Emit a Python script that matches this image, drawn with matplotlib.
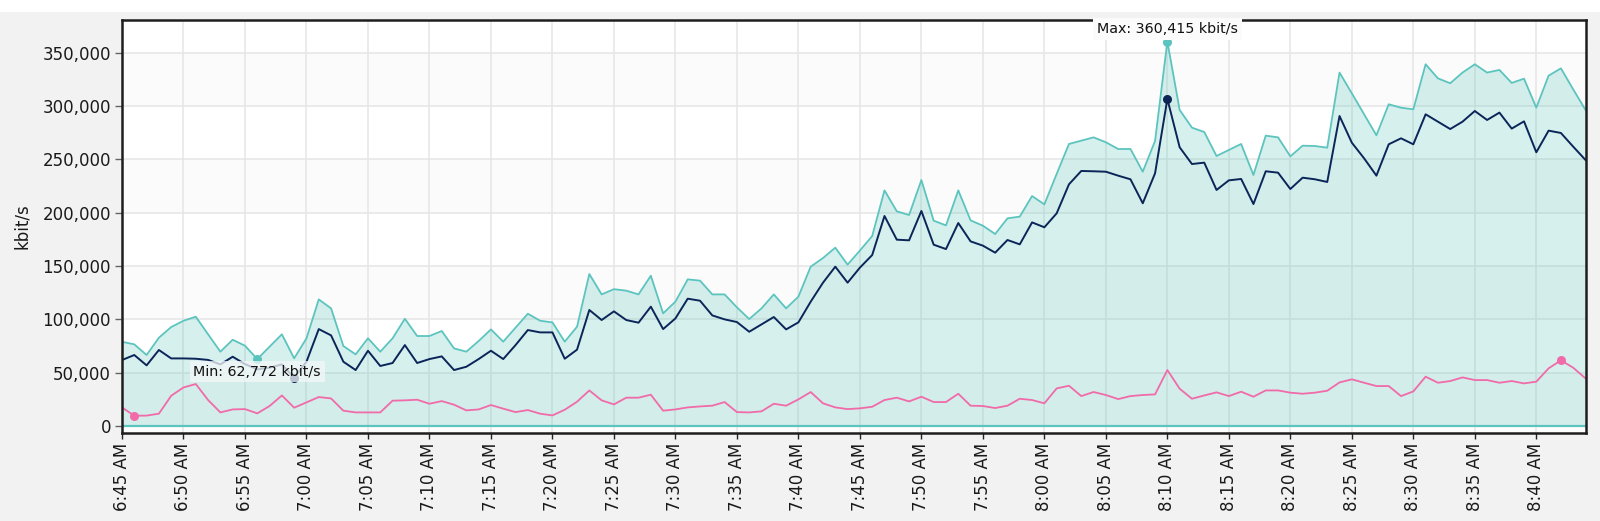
import numpy as np
import pandas as pd
import matplotlib
matplotlib.use("Agg")
import matplotlib.pyplot as plt
import matplotlib.dates as mdates
from matplotlib.patches import Rectangle

# one sample per minute, 6:45 AM .. 8:44 AM
times = pd.date_range("2024-11-04 06:45", periods=120, freq="min")

# total traffic (teal, filled)
total = [79000, 76600, 66600, 82800, 92800, 98700, 102500, 86000, 69700, 80900,
         75300, 62772, 74400, 86000, 63500, 82200, 118700, 110300, 75000, 67200,
         82300, 69700, 82200, 100600, 84400, 84400, 89100, 72800, 69700, 79700,
         90600, 79100, 92200, 105300, 98700, 97200, 79100, 93100, 142500, 123400,
         128300, 126900, 123400, 140900, 105600, 116600, 137500, 136300, 123400, 123400,
         111300, 100300, 110300, 123400, 110300, 121300, 149400, 157500, 167200, 151300,
         164500, 178100, 220900, 201300, 197800, 230600, 192500, 188100, 220900, 192800,
         187800, 180000, 194700, 196300, 215600, 207800, 236300, 264400, 267500, 270600,
         266000, 259700, 259700, 238400, 267200, 360415, 296300, 279700, 275600, 253100,
         258800, 264400, 235300, 272200, 270600, 252800, 262800, 262500, 260900, 331300,
         311900, 292200, 272500, 301600, 298400, 296900, 339100, 325900, 321300, 331300,
         339100, 331300, 333800, 321600, 325600, 298400, 328400, 335300, 315600, 296300]

# traffic in (navy)
traffic_in = [61900, 66600, 56900, 71300, 63400, 63400, 63100, 62000, 57800, 65000,
              58100, 53100, 54700, 57800, 45300, 60300, 90900, 85000, 60300, 52500,
              70600, 56300, 59100, 75900, 59100, 62800, 65300, 52500, 55600, 62800,
              70600, 62800, 75900, 90000, 87800, 87800, 63100, 71600, 108800, 99400,
              107500, 99400, 96900, 111900, 90900, 100900, 119400, 117500, 103700, 100000,
              97500, 88400, 95300, 102200, 90600, 97200, 116600, 134400, 149400, 134400,
              148500, 160300, 196900, 174700, 174100, 201600, 170000, 165900, 190300, 173100,
              169100, 162500, 174400, 170300, 190900, 186300, 199400, 226600, 239100, 238800,
              238400, 234700, 231300, 208800, 236900, 306600, 261300, 245600, 246900, 221300,
              230300, 231600, 208100, 238800, 237500, 222200, 232800, 231300, 228800, 290600,
              265600, 250900, 234700, 264100, 269700, 264100, 292200, 285300, 278400, 285300,
              295300, 286900, 293800, 278800, 285600, 256600, 276900, 274700, 261900, 249400]

# traffic out (pink)
traffic_out = [17500, 9700, 9800, 11600, 28400, 36200, 39400, 24400, 12800, 15600,
               15900, 11900, 18800, 28700, 17200, 22200, 27200, 25900, 14400, 12800,
               12800, 12800, 23800, 24100, 24700, 20900, 23400, 20000, 14700, 15600,
               19700, 16300, 13100, 15000, 11600, 10000, 15300, 22800, 33400, 24100,
               20300, 26600, 26600, 29400, 14400, 15600, 17500, 18400, 19100, 22500,
               13100, 12800, 13800, 20900, 19100, 25000, 31900, 21300, 17500, 15900,
               16600, 18100, 24400, 26600, 23100, 27500, 22500, 22500, 30300, 19100,
               18800, 16900, 19100, 25600, 24400, 21300, 35300, 37800, 28100, 31900,
               29100, 25300, 28100, 29100, 29700, 52500, 35000, 25600, 28700, 31600,
               28100, 32200, 27500, 33400, 33400, 31300, 30300, 31300, 33100, 40900,
               43800, 40600, 37500, 37500, 28100, 32500, 46300, 40600, 42200, 45600,
               43100, 43100, 40600, 42200, 40000, 41600, 54100, 61600, 54700, 44700]

y_ticks = [0, 50000, 100000, 150000, 200000, 250000, 300000, 350000]
unit = "kbit/s"

TEAL = "#5cc4be"
NAVY = "#0b2559"
PINK = "#f06ba8"

fig = plt.figure(figsize=(16, 5.21), dpi=100, facecolor="#f2f2f2")
fig.patches.append(Rectangle((0, 1 - 12 / 521), 1, 12 / 521, transform=fig.transFigure,
                             facecolor="white", edgecolor="none", zorder=0))
ax = fig.add_axes([122 / 1600, 88 / 521, 1463.5 / 1600, 413 / 521])
ax.set_facecolor("white")

# alternating background bands
for lo in [0, 100000, 200000, 300000]:
    ax.axhspan(lo, lo + 50000, color="#fbfbfb", lw=0, zorder=0)

ax.grid(True, color="#e6e6e6", lw=1.1)
ax.set_axisbelow(True)

ax.fill_between(times, total, 0, color=TEAL, alpha=0.25, lw=0, zorder=1.5)
ax.axhline(0, color=TEAL, lw=1.6, zorder=2)
ax.plot(times, total, color=TEAL, lw=1.3, zorder=2.2)
ax.plot(times, traffic_in, color=NAVY, lw=1.4, zorder=2.3)
ax.plot(times, traffic_out, color=PINK, lw=1.3, zorder=2.2)

# min / max markers
for s, c in [(total, TEAL), (traffic_in, NAVY), (traffic_out, PINK)]:
    s = np.array(s)
    for k in (s.argmin(), s.argmax()):
        ax.plot(times[k], s[k], "o", color=c, ms=6.5, mec="none", zorder=2.6)

tot = np.array(total)
kmin, kmax = tot.argmin(), tot.argmax()
ax.annotate(f"Min: {tot[kmin]:,} {unit}", (times[kmin], tot[kmin]), xytext=(0, -9),
            textcoords="offset points", ha="center", va="center", fontsize=10.3,
            color="#111111", zorder=4,
            bbox=dict(boxstyle="square,pad=0.25", fc="#f4f8f8", ec="none", alpha=0.75))
ax.annotate(f"Max: {tot[kmax]:,} {unit}", (times[kmax], tot[kmax]), xytext=(0, 9),
            textcoords="offset points", ha="center", va="center", fontsize=10.3,
            color="#111111", zorder=4, annotation_clip=False,
            bbox=dict(boxstyle="square,pad=0.3", fc="#fbfbfb", ec="none"))

ax.set_xlim(times[0], times[-1])
ax.set_ylim(-6500, 380600)
ax.set_yticks(y_ticks)
ax.yaxis.set_major_formatter(matplotlib.ticker.FuncFormatter(lambda v, p: f"{v:,.0f}"))
ax.xaxis.set_major_locator(mdates.MinuteLocator(byminute=range(0, 60, 5)))
ax.xaxis.set_major_formatter(mdates.DateFormatter("%-I:%M %p"))
ax.tick_params(axis="x", rotation=90, labelsize=12, length=4, width=1, color="#222222",
               labelcolor="#1a1a1a", pad=3)
ax.tick_params(axis="y", labelsize=12, length=5, width=1, color="#666666",
               labelcolor="#1a1a1a", pad=3)
for sp in ax.spines.values():
    sp.set_linewidth(1.8)
    sp.set_color("#1e1e1e")

fig.text(22 / 1600, (88 + 413 / 2) / 521, unit, rotation=90, ha="center", va="center",
         fontsize=12, color="#1a1a1a")

fig.savefig("out.png", dpi=100, facecolor=fig.get_facecolor())
